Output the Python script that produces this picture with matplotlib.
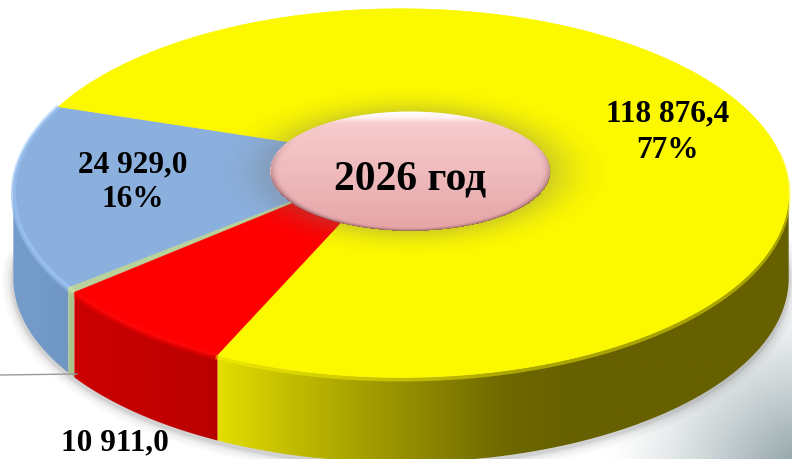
import matplotlib
matplotlib.use('Agg')
import matplotlib.pyplot as plt
import numpy as np
from matplotlib.patches import Polygon, Ellipse

plt.rcParams['font.family'] = ['Liberation Serif', 'DejaVu Serif']

# values, going counter-clockwise from the blue/yellow border
names = ['blue', 'thin', 'red', 'yellow']
values = [24929.0, 650.0, 10911.0, 118876.4]
top_colors = ['#8BB0DE', '#B9D29B', '#FF0000', '#FCF800']
rim_colors = ['#A3CCFB', '#CFE4B4', '#FF0808', '#FFFF10']
value_labels = ['24 929,0\n16%', '10 911,0', '118 876,4\n77%']
title = '2026 год'

W, H = 792, 460
fig = plt.figure(figsize=(W / 100, H / 100), dpi=100)
ax = fig.add_axes([0, 0, 1, 1])
ax.axis('off')

# pie geometry in pixels, k gives the perspective
cx, cy = 401, 160
a, b = 381, 178
k = 0.185
depth = 85
start = 161.9


def project(t):
    r = np.radians(t)
    X, Y = np.cos(r), np.sin(r)
    w = 1 + k * Y
    return cx + a * X / w, cy - b * Y / w


def gradient(stops, x0, x1, clip, z):
    xs = np.linspace(x0, x1, 400)
    rgb = np.zeros((1, 400, 3))
    for i in range(3):
        rgb[0, :, i] = np.interp(xs, [s[0] for s in stops], [s[1][i] / 255 for s in stops])
    im = ax.imshow(rgb, extent=[x0, x1, H, 0], aspect='auto', zorder=z)
    im.set_clip_path(clip)


# background, white with grey in the lower right corner
yy, xx = np.mgrid[0:H, 0:W]
d = np.hypot(xx - 805, yy - 480)
f = np.clip(1 - d / 200, 0, 1) ** 1.3
bg = np.dstack([1 - 0.48 * f, 1 - 0.4 * f, 1 - 0.38 * f])
ax.imshow(bg, extent=[0, W, H, 0], aspect='auto', zorder=0)

edges = start + np.cumsum([0] + values) / sum(values) * 360

# soft shadow under the pie
tt = np.linspace(185, 360, 300)
sx, sy = project(tt)
for lw, al in [(16, 0.03), (12, 0.04), (8, 0.06), (5, 0.08), (3, 0.1)]:
    ax.plot(sx, sy + depth + 2, color='#606060', lw=lw, alpha=al, zorder=1, solid_capstyle='round')

# the walls only run between the two outermost points of the rim
tg = np.linspace(170, 210, 800)
t_left = tg[np.argmin(project(tg)[0])]
tg = np.linspace(330, 370, 800)
t_right = tg[np.argmax(project(tg)[0])]

# side walls
wall_stops = [
    [(0, (118, 158, 205)), (75, (112, 150, 195))],
    [(0, (170, 195, 140)), (800, (170, 195, 140))],
    [(70, (205, 0, 0)), (217, (185, 0, 0))],
    [(217, (228, 222, 0)), (300, (190, 185, 0)), (400, (150, 145, 0)), (500, (112, 106, 0)), (565, (102, 96, 0))],
]
for i in range(len(values)):
    t0f = max(edges[i], t_left)
    t1f = min(edges[i + 1], t_right)
    tt = np.linspace(t0f, t1f, 200)
    x, y = project(tt)
    pts = np.r_[np.c_[x, y], np.c_[x, y + depth][::-1]]
    clip = Polygon(pts, closed=True, transform=ax.transData, facecolor='none', edgecolor='none')
    ax.add_patch(clip)
    gradient(wall_stops[i], 0, W, clip, 2)

# top of the pie
for i in range(len(values)):
    tt = np.linspace(edges[i], edges[i + 1], 300)
    x, y = project(tt)
    pts = np.r_[[[cx, cy]], np.c_[x, y]]
    ax.add_patch(Polygon(pts, closed=True, facecolor=top_colors[i], edgecolor=top_colors[i], lw=0.5, zorder=3))

# bevel along the front edge
for i in range(3):
    tt = np.linspace(max(edges[i], 160), edges[i + 1], 200)
    x, y = project(tt)
    ax.plot(x, y, color=rim_colors[i], lw=3.5, alpha=0.6, zorder=4, solid_capstyle='butt')
    ax.plot(x, y + 3, color=top_colors[i], lw=3, alpha=0.35, zorder=4, solid_capstyle='butt')
tt = np.linspace(edges[3], 362, 300)
x, y = project(tt)
ax.plot(x, y + 2, color='#FCF800', lw=3, alpha=0.45, zorder=4)

# blurred dark glow around the hub
hx, hy, ha, hb = 410, 172, 140, 59.5
rr = np.hypot((xx - hx) / ha, (yy - hy) / hb)
glow = np.zeros((H, W, 4))
glow[..., :3] = [0.45, 0.45, 0.42]
glow[..., 3] = 0.3 * np.clip(1 - (rr - 1) / 0.45, 0, 1) ** 2
ax.imshow(glow, extent=[0, W, H, 0], aspect='auto', zorder=5)

# hub with vertical gradient and light top
hub = Ellipse((hx, hy), 2 * ha, 2 * hb, facecolor='none', edgecolor='none', transform=ax.transData)
ax.add_patch(hub)
ys = np.array([112, 118, 124, 132, 180, 231])
cols = np.array([[255, 255, 255], [254, 240, 240], [246, 204, 206], [245, 200, 202], [238, 184, 186], [230, 164, 166]]) / 255
grad = np.dstack([np.interp(np.arange(H), ys, cols[:, j]) for j in range(3)]).reshape(H, 1, 3)
im = ax.imshow(grad, extent=[0, W, H, 0], aspect='auto', zorder=6)
im.set_clip_path(hub)
# darker rim on the lower part
rim = np.zeros((H, W, 4))
rim[..., :3] = [0.5, 0.3, 0.35]
rim[..., 3] = np.where(rr <= 1, np.clip((rr - 0.93) / 0.07, 0, 1) ** 2 * 0.75, 0) * np.clip((yy - hy + 35) / 60, 0, 1)
ax.imshow(rim, extent=[0, W, H, 0], aspect='auto', zorder=7)

# leader line
ax.plot([0, 77], [376, 375], color='#9A9A9A', lw=1, zorder=8)

# texts
txt = dict(fontweight='bold', color='black', ha='center', va='center', zorder=9)
ax.text(133, 182, value_labels[0], fontsize=22.5, linespacing=1.25, **txt)
ax.text(115, 443, value_labels[1], fontsize=22.5, **txt)
ax.text(668, 132, value_labels[2], fontsize=22.5, linespacing=1.35, **txt)
ax.text(410, 180, title, fontsize=30, **txt)

ax.set_xlim(0, W)
ax.set_ylim(H, 0)
fig.savefig('out.png', dpi=100)
